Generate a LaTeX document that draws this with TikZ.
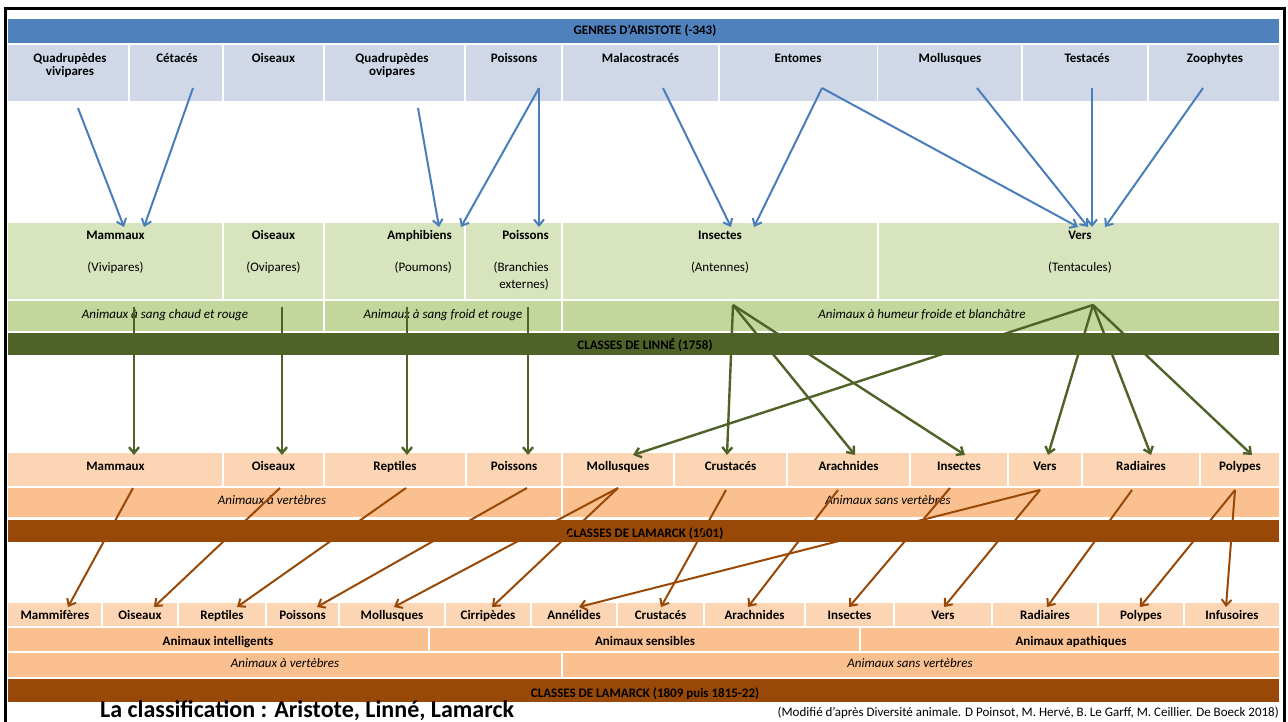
\documentclass[tikz,border=0pt]{standalone}
\usepackage{fontspec}
\setmainfont{Carlito}
\usetikzlibrary{arrows.meta}
\definecolor{hdrblue}{HTML}{4F81BD}
\definecolor{ltblue}{HTML}{D0D8E8}
\definecolor{grnA}{HTML}{D7E4BD}
\definecolor{grnB}{HTML}{C3D69B}
\definecolor{grnD}{HTML}{4F6228}
\definecolor{salA}{HTML}{FCD5B5}
\definecolor{salB}{HTML}{FAC090}
\definecolor{brn}{HTML}{984807}
\definecolor{arrblue}{HTML}{4A7EBB}
\tikzset{
  cellbox/.style={draw=white, line width=1.2pt},
  boldtxt/.style={font=\bfseries\fontsize{13}{15}\selectfont, anchor=base, inner sep=0pt},
  regtxt/.style={font=\fontsize{13}{15}\selectfont, anchor=base, inner sep=0pt},
  italtxt/.style={font=\itshape\fontsize{13}{15}\selectfont, anchor=base, inner sep=0pt},
  blarrow/.style={draw=arrblue, line width=2pt, -{Straight Barb[length=6pt,width=10pt]}},
  grarrow/.style={draw=grnD, line width=2.4pt, -{Straight Barb[length=6pt,width=10pt]}},
  brarrow/.style={draw=brn, line width=2pt, -{Straight Barb[length=6pt,width=10pt]}}
}
\begin{document}
\begin{tikzpicture}[x=1pt,y=-1pt]
\useasboundingbox (0,0) rectangle (1288,722);
\fill[white] (0,0) rectangle (1288,722);

% ---------- Aristote ----------
\path[cellbox,fill=hdrblue] (7.5,18) rectangle (1280,43.5);
\node[boldtxt] (tAri) at (645,35) {GENRES D’ARISTOTE (-343)};
\foreach \a/\b in {7.5/129,129/223,223/324,324/465,465/562,562/719,719/877.5,877.5/1022,1022/1148,1148/1280}
  \path[cellbox,fill=ltblue] (\a,44) rectangle (\b,101.5);
\node[boldtxt] (aQV1) at (70,62.5) {Quadrupèdes};
\node[boldtxt] (aQV2) at (70,76) {vivipares};
\node[boldtxt] (aCet) at (177,62.5) {Cétacés};
\node[boldtxt] (aOis) at (273.5,62.5) {Oiseaux};
\node[boldtxt] (aQO1) at (392,62.5) {Quadrupèdes};
\node[boldtxt] (aQO2) at (392,76) {ovipares};
\node[boldtxt] (aPoi) at (514,62.5) {Poissons};
\node[boldtxt] (aMal) at (640.5,62.5) {Malacostracés};
\node[boldtxt] (aEnt) at (798,62.5) {Entomes};
\node[boldtxt] (aMol) at (950,62.5) {Mollusques};
\node[boldtxt] (aTes) at (1087,62.5) {Testacés};
\node[boldtxt] (aZoo) at (1215,62.5) {Zoophytes};

% ---------- Linne ----------
\foreach \a/\b in {7.5/223,223/324,324/465,465/562,562/878,878/1280}
  \path[cellbox,fill=grnA] (\a,222.5) rectangle (\b,299.5);
\node[boldtxt] (lMam) at (115.5,240) {Mammaux};
\node[regtxt] (lMamS) at (115.5,272) {(Vivipares)};
\node[boldtxt] (lOis) at (273.5,240) {Oiseaux};
\node[regtxt] (lOisS) at (273.5,272) {(Ovipares)};
\node[boldtxt,anchor=base east] (lAmp) at (452,240) {Amphibiens};
\node[regtxt,anchor=base east] (lAmpS) at (452,272) {(Poumons)};
\node[boldtxt,anchor=base east] (lPoi) at (549,240) {Poissons};
\node[regtxt,anchor=base east] (lPoiS1) at (549,272) {(Branchies};
\node[regtxt,anchor=base east] (lPoiS2) at (549,288.5) {externes)};
\node[boldtxt] (lIns) at (720,240) {Insectes};
\node[regtxt] (lInsS) at (720,272) {(Antennes)};
\node[boldtxt] (lVer) at (1080,240) {Vers};
\node[regtxt] (lVerS) at (1080,272) {(Tentacules)};
\foreach \a/\b in {7.5/324,324/562,562/1280}
  \path[cellbox,fill=grnB] (\a,300) rectangle (\b,331.5);
\node[italtxt] (lSC) at (165,318) {Animaux à sang chaud et rouge};
\node[italtxt] (lSF) at (443,318) {Animaux à sang froid et rouge};
\node[italtxt] (lHF) at (922,318) {Animaux à humeur froide et blanchâtre};
\path[cellbox,fill=grnD] (7.5,332.5) rectangle (1280,356);
\node[boldtxt] (tLin) at (645,349) {CLASSES DE LINNÉ (1758)};

% ---------- Lamarck 1801 ----------
\foreach \a/\b in {7.5/223,223/324,324/466,466/562,562/674,674/787,787/910,910/1008,1008/1082,1082/1200,1200/1280}
  \path[cellbox,fill=salA] (\a,452) rectangle (\b,487);
\node[boldtxt] (mMam) at (115.5,470) {Mammaux};
\node[boldtxt] (mOis) at (273.5,470) {Oiseaux};
\node[boldtxt] (mRep) at (395,470) {Reptiles};
\node[boldtxt] (mPoi) at (514,470) {Poissons};
\node[boldtxt] (mMol) at (618,470) {Mollusques};
\node[boldtxt] (mCru) at (730.5,470) {Crustacés};
\node[boldtxt] (mAra) at (848.5,470) {Arachnides};
\node[boldtxt] (mIns) at (959,470) {Insectes};
\node[boldtxt] (mVer) at (1045,470) {Vers};
\node[boldtxt] (mRad) at (1141,470) {Radiaires};
\node[boldtxt] (mPol) at (1240,470) {Polypes};
\foreach \a/\b in {7.5/562,562/1280}
  \path[cellbox,fill=salB] (\a,487.5) rectangle (\b,518);
\node[italtxt] (mVt) at (272,504) {Animaux à vertèbres};
\node[italtxt] (mSV) at (888,504) {Animaux sans vertèbres};
\path[cellbox,fill=brn] (7.5,519) rectangle (1280,543);
\node[boldtxt] (tLa1) at (645,537) {CLASSES DE LAMARCK (1801)};

% ---------- Lamarck 1809 ----------
\foreach \a/\b in {7.5/102,102/178,178/266,266/339,339/445,445/531,531/617,617/704,704/805,805/894,894/992,992/1098,1098/1184,1184/1280}
  \path[cellbox,fill=salA] (\a,602) rectangle (\b,626.5);
\node[boldtxt] (nMam) at (55,619.5) {Mammifères};
\node[boldtxt] (nOis) at (140,619.5) {Oiseaux};
\node[boldtxt] (nRep) at (222,619.5) {Reptiles};
\node[boldtxt] (nPoi) at (302.5,619.5) {Poissons};
\node[boldtxt] (nMol) at (392,619.5) {Mollusques};
\node[boldtxt] (nCir) at (488,619.5) {Cirripèdes};
\node[boldtxt] (nAnn) at (574,619.5) {Annélides};
\node[boldtxt] (nCru) at (660.5,619.5) {Crustacés};
\node[boldtxt] (nAra) at (754.5,619.5) {Arachnides};
\node[boldtxt] (nIns) at (849.5,619.5) {Insectes};
\node[boldtxt] (nVer) at (943,619.5) {Vers};
\node[boldtxt] (nRad) at (1045,619.5) {Radiaires};
\node[boldtxt] (nPol) at (1141,619.5) {Polypes};
\node[boldtxt] (nInf) at (1232,619.5) {Infusoires};
\foreach \a/\b in {7.5/429,429/860,860/1280}
  \path[cellbox,fill=salB] (\a,627) rectangle (\b,652);
\node[boldtxt] (nInt) at (218,645) {Animaux intelligents};
\node[boldtxt] (nSen) at (645,645) {Animaux sensibles};
\node[boldtxt] (nApa) at (1071,645) {Animaux apathiques};
\foreach \a/\b in {7.5/562,562/1280}
  \path[cellbox,fill=salB] (\a,652.5) rectangle (\b,677.5);
\node[italtxt] (nVt) at (285,667) {Animaux à vertèbres};
\node[italtxt] (nSV) at (910,667) {Animaux sans vertèbres};
\path[cellbox,fill=brn] (7.5,678.5) rectangle (1280,703);
\node[boldtxt] (tLa2) at (645,697) {CLASSES DE LAMARCK (1809 puis 1815-22)};

% ---------- caption ----------
\node[font=\bfseries\fontsize{24}{28}\selectfont, anchor=base west, inner sep=0pt] (cap) at (100,717.3) {La classification : Aristote, Linné, Lamarck};
\node[regtxt, anchor=base east] (src) at (1279,716) {(Modifié d’après Diversité animale. D Poinsot, M. Hervé, B. Le Garff, M. Ceillier. De Boeck 2018)};

% ---------- frame ----------
\draw[black, line width=2.5pt] (5.5,722) -- (5.5,8.5) -- (1284.5,8.5) -- (1284.5,722);

% ---------- arrow end points ----------
\coordinate (sQV) at (78,108);   \coordinate (eMamA) at (124,227);
\coordinate (sCet) at (193,88);  \coordinate (eMamB) at (144,227);
\coordinate (sQO) at (418,108);  \coordinate (eAmpA) at (439,227);
\coordinate (sPoi) at (539,88);  \coordinate (eAmpB) at (461,227);
\coordinate (ePoi) at (539,227);
\coordinate (sMal) at (663,88);  \coordinate (eInsA) at (731,227);
\coordinate (sEnt) at (822,88);  \coordinate (eInsB) at (754,227);
\coordinate (eVerA) at (1078,227);
\coordinate (sMol) at (977,88);  \coordinate (eVerB) at (1088,227);
\coordinate (sTes) at (1092,88); \coordinate (eVerC) at (1092,227);
\coordinate (sZoo) at (1203,88); \coordinate (eVerD) at (1105,227);

\coordinate (gMam) at (134,307); \coordinate (hMam) at (134,455);
\coordinate (gOis) at (282,307); \coordinate (hOis) at (282,455);
\coordinate (gAmp) at (407,307); \coordinate (hRep) at (407,455);
\coordinate (gPoi) at (528,307); \coordinate (hPoi) at (528,455);
\coordinate (gIns) at (733,305); \coordinate (hCru) at (727,455);
\coordinate (hAra) at (855,455); \coordinate (hIns) at (965,455);
\coordinate (gVer) at (1093,305); \coordinate (hMol) at (633,455);
\coordinate (hVer) at (1048,455); \coordinate (hRad) at (1151,455);
\coordinate (hPol) at (1252,455);

\coordinate (rMam) at (133,488); \coordinate (qMam) at (68,607);
\coordinate (rOis) at (280,488); \coordinate (qOis) at (154,607);
\coordinate (rRep) at (406,488); \coordinate (qRep) at (237,607);
\coordinate (rPoi) at (527,488); \coordinate (qPoi) at (317,607);
\coordinate (rMol) at (618,488); \coordinate (qMol) at (394,607);
\coordinate (qCir) at (492,607);
\coordinate (rCru) at (726,490); \coordinate (qCru) at (661,607);
\coordinate (rAra) at (838,490); \coordinate (qAra) at (748,607);
\coordinate (rIns) at (950,488); \coordinate (qIns) at (849,607);
\coordinate (rVer) at (1040,490); \coordinate (qAnn) at (579,607);
\coordinate (qVer) at (944,607);
\coordinate (rRad) at (1132,490); \coordinate (qRad) at (1047,607);
\coordinate (rPol) at (1235,490); \coordinate (qPol) at (1140,607);
\coordinate (qInf) at (1226,607);

% ---------- arrows ----------
\draw[blarrow] (sQV) -- (eMamA);
\draw[blarrow] (sCet) -- (eMamB);
\draw[blarrow] (sQO) -- (eAmpA);
\draw[blarrow] (sPoi) -- (eAmpB);
\draw[blarrow] (sPoi) -- (ePoi);
\draw[blarrow] (sMal) -- (eInsA);
\draw[blarrow] (sEnt) -- (eInsB);
\draw[blarrow] (sEnt) -- (eVerA);
\draw[blarrow] (sMol) -- (eVerB);
\draw[blarrow] (sTes) -- (eVerC);
\draw[blarrow] (sZoo) -- (eVerD);

\draw[grarrow] (gMam) -- (hMam);
\draw[grarrow] (gOis) -- (hOis);
\draw[grarrow] (gAmp) -- (hRep);
\draw[grarrow] (gPoi) -- (hPoi);
\draw[grarrow] (gIns) -- (hCru);
\draw[grarrow] (gIns) -- (hAra);
\draw[grarrow] (gIns) -- (hIns);
\draw[grarrow] (gVer) -- (hMol);
\draw[grarrow] (gVer) -- (hVer);
\draw[grarrow] (gVer) -- (hRad);
\draw[grarrow] (gVer) -- (hPol);

\draw[brarrow] (rMam) -- (qMam);
\draw[brarrow] (rOis) -- (qOis);
\draw[brarrow] (rRep) -- (qRep);
\draw[brarrow] (rPoi) -- (qPoi);
\draw[brarrow] (rMol) -- (qMol);
\draw[brarrow] (rMol) -- (qCir);
\draw[brarrow] (rCru) -- (qCru);
\draw[brarrow] (rAra) -- (qAra);
\draw[brarrow] (rIns) -- (qIns);
\draw[brarrow] (rVer) -- (qAnn);
\draw[brarrow] (rVer) -- (qVer);
\draw[brarrow] (rRad) -- (qRad);
\draw[brarrow] (rPol) -- (qPol);
\draw[brarrow] (rPol) -- (qInf);
\end{tikzpicture}
\end{document}
